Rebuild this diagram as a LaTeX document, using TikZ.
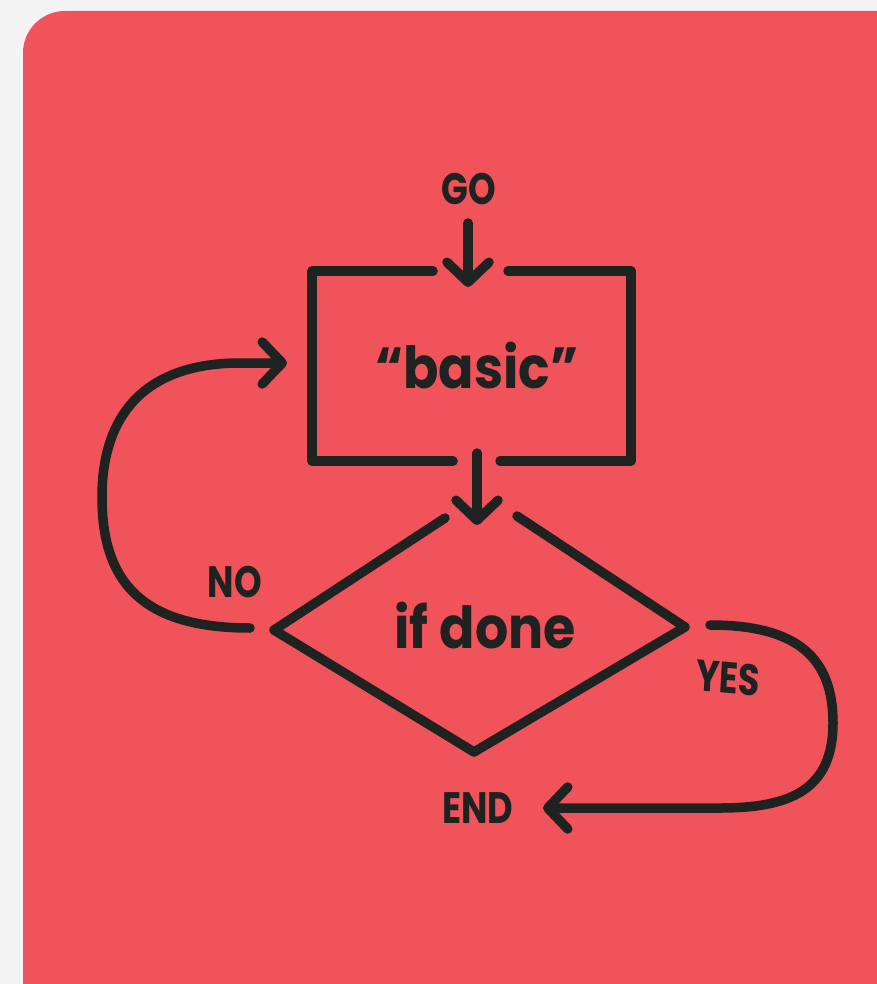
\documentclass[tikz,border=0pt]{standalone}
\usepackage{fontspec}
\setmainfont{Poppins}
\usetikzlibrary{arrows.meta}
\definecolor{bg}{HTML}{F3F3F4}
\definecolor{card}{HTML}{F0545A}
\definecolor{ink}{HTML}{1E2220}
\tikzset{
  stroke/.style={draw=ink, line width=9.5pt, line cap=round, line join=round},
  arr/.style={stroke, -{Straight Barb[length=20pt,width=42pt,round]}},
  lbl/.style={text=ink, font=\bfseries\fontsize{44}{44}\selectfont, inner sep=0pt, xscale=0.8},
  big/.style={text=ink, font=\bfseries\fontsize{58}{58}\selectfont, inner sep=0pt, xscale=0.9},
}
\begin{document}
\begin{tikzpicture}[x=1pt,y=-1pt]
\useasboundingbox (0,0) rectangle (877,984);
\fill[bg] (0,0) rectangle (877,984);
\clip (0,0) rectangle (877,984);
\fill[card, rounded corners=42pt] (23,11) rectangle (940,1040);

% texts
\node[lbl] (go) at (469,189) {GO};
\node[big] (basic) at (477,366) {“basic”};
\node[big] (ifdone) at (485,625) {if done};
\node[lbl] (no) at (235,582) {NO};
\node[lbl, rotate=-4] (yes) at (728,678) {YES};
\node[lbl] (end) at (478,808) {END};

% box (with gaps)
\coordinate (boxTL) at (312,271);
\coordinate (boxTR) at (631,271);
\coordinate (boxBL) at (312,461);
\coordinate (boxBR) at (631,461);
\draw[stroke] (433,271) -- (boxTL) -- (boxBL) -- (453,461);
\draw[stroke] (508,271) -- (boxTR) -- (boxBR) -- (500,461);

% diamond (with gap at top)
\coordinate (dL) at (274,630);
\coordinate (dB) at (474,752);
\coordinate (dR) at (685,627);
\draw[stroke] (445,518) -- (dL) -- (dB) -- (dR) -- (517,516);

% connectors
\coordinate (goS) at (468,223);
\coordinate (boxIn) at (468,287);
\draw[arr] (goS) -- (boxIn);

\coordinate (boxOut) at (477,453);
\coordinate (decIn) at (477,525);
\draw[arr] (boxOut) -- (decIn);

\coordinate (noStart) at (250,628);
\coordinate (noEnd) at (287,363);
\draw[arr] (noStart) .. controls (140,628) and (102,580) .. (102,497)
  .. controls (102,410) and (150,363) .. (240,363) -- (noEnd);

\coordinate (yesStart) at (710,625);
\coordinate (yesEnd) at (543,808);
\draw[arr] (yesStart) .. controls (800,625) and (833,660) .. (833,723)
  .. controls (833,790) and (790,808) .. (720,808) -- (yesEnd);
\end{tikzpicture}
\end{document}
